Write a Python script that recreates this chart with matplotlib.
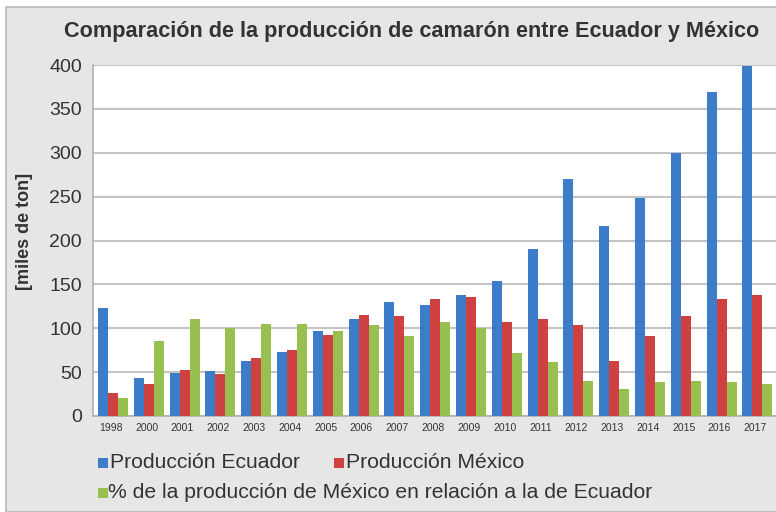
import matplotlib.pyplot as plt
import numpy as np
from matplotlib.patches import Rectangle

years = ["1998", "2000", "2001", "2002", "2003", "2004", "2005", "2006", "2007", "2008",
         "2009", "2010", "2011", "2012", "2013", "2014", "2015", "2016", "2017"]
ecuador = [123, 43, 49, 51, 63, 73, 97, 111, 130, 127, 138, 154, 190, 270, 216, 248, 300, 369, 399]
mexico = [26, 37, 52, 48, 66, 75, 92, 115, 114, 133, 136, 107, 111, 104, 63, 91, 114, 133, 138]
pct = [21, 86, 110, 100, 105, 105, 97, 104, 91, 107, 100, 72, 62, 40, 31, 39, 40, 39, 37]

c_blue = "#3d7cc9"
c_red = "#cf4040"
c_green = "#97c050"
bg = "#e6e6e6"
txt = "#333333"

plt.rcParams["font.family"] = ["Liberation Sans", "DejaVu Sans"]

fig = plt.figure(figsize=(7.76, 5.12), dpi=100)
fig.patch.set_facecolor("white")
# grey outer panel
fig.patches.append(Rectangle((6 / 776, 0), 1, 1 - 7 / 512, transform=fig.transFigure,
                             facecolor=bg, edgecolor="#b8b8b8", lw=1.2, zorder=-10))

ax = fig.add_axes([93 / 776, 1 - 416 / 512, 683 / 776, (416 - 65) / 512])
ax.set_facecolor("white")

x = np.arange(len(years))
w = 0.28
ax.bar(x - w + 0.06, ecuador, w, color=c_blue, zorder=3)
ax.bar(x + 0.06, mexico, w, color=c_red, zorder=3)
ax.bar(x + w + 0.06, pct, w, color=c_green, zorder=3)

ax.set_ylim(0, 400)
ax.set_xlim(-0.5, 18.58)
ax.set_yticks(range(0, 401, 50))
ax.yaxis.grid(True, color="#c4c4c4", lw=1.5)
ax.set_axisbelow(True)
ax.set_xticks(x)
ax.set_xticklabels(years, fontsize=7.5, color=txt)
ax.tick_params(axis="y", labelsize=14, colors=txt, length=0, pad=8)
ax.tick_params(axis="x", length=0, pad=5)
for s in ["top", "right"]:
    ax.spines[s].set_visible(False)
for s in ["left", "bottom"]:
    ax.spines[s].set_color("#b0b0b0")
    ax.spines[s].set_linewidth(1.2)

ax.set_ylabel("[miles de ton]", fontsize=13, fontweight="bold", color=txt)
ax.yaxis.set_label_coords(-0.088, 0.527)

fig.text(412 / 776, 1 - 32 / 512, "Comparación de la producción de camarón entre Ecuador y México",
         ha="center", va="center", fontsize=15.6, fontweight="bold", color=txt)

# legend
legend_items = [
    (98, 110, 463, c_blue, "Producción Ecuador"),
    (334, 346, 463, c_red, "Producción México"),
    (98, 108, 493, c_green, "% de la producción de México en relación a la de Ecuador"),
]
for mx, tx, ly, col, label in legend_items:
    fig.patches.append(Rectangle((mx / 776, 1 - (ly + 5) / 512), 10 / 776, 10 / 512,
                                 transform=fig.transFigure, facecolor=col, edgecolor="none"))
    fig.text(tx / 776, 1 - ly / 512, label, ha="left", va="center",
             fontsize=15.2, color=txt)

fig.savefig("out.png", dpi=100, facecolor=fig.get_facecolor())
